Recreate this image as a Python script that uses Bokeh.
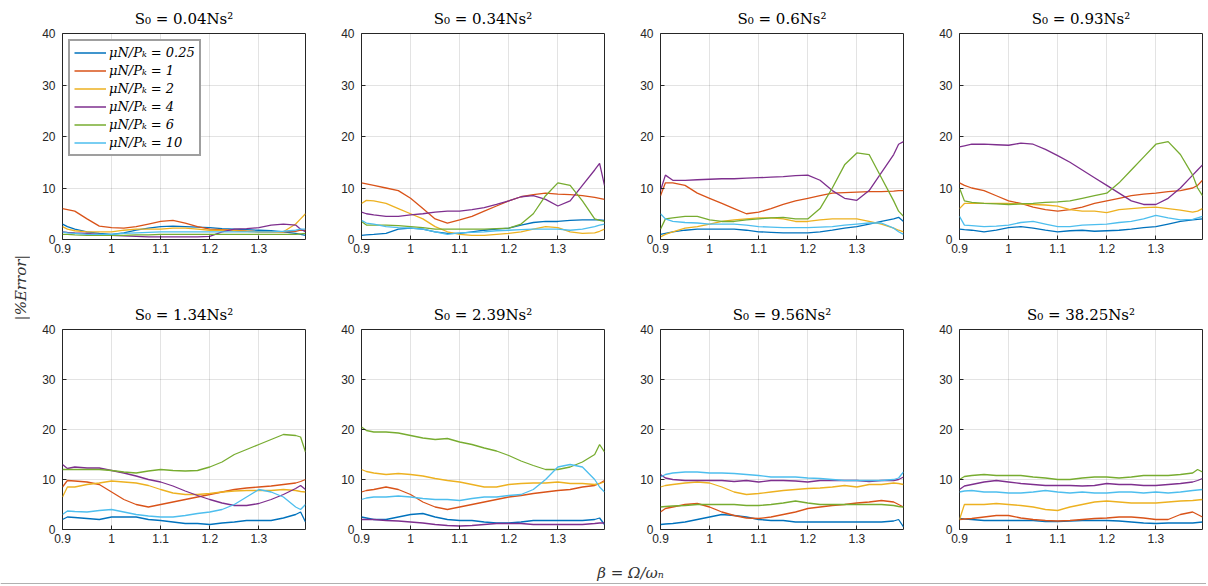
import math
from bokeh.plotting import figure
from bokeh.models import (FixedTicker, NumeralTickFormatter, Legend, LegendItem,
                          Label, Range1d, Span)
from bokeh.layouts import row, column
from bokeh.embed import file_html
from bokeh.resources import INLINE

# ---------------- data ----------------
BETA = [0.9, 0.91, 0.925, 0.95, 0.975, 1.0, 1.025, 1.05, 1.075, 1.1, 1.125, 1.15,
        1.175, 1.2, 1.225, 1.25, 1.275, 1.3, 1.325, 1.35, 1.375, 1.385, 1.395]

TITLES = ["S₀ = 0.04Ns²", "S₀ = 0.34Ns²", "S₀ = 0.6Ns²", "S₀ = 0.93Ns²",
          "S₀ = 1.34Ns²", "S₀ = 2.39Ns²", "S₀ = 9.56Ns²", "S₀ = 38.25Ns²"]

RATIO_LABELS = ["μN/Pₖ = 0.25", "μN/Pₖ = 1", "μN/Pₖ = 2",
                "μN/Pₖ = 4", "μN/Pₖ = 6", "μN/Pₖ = 10"]

COLORS = ["#0072BD", "#D95319", "#EDB120", "#7E2F8E", "#77AC30", "#4DBEEE"]

X_TICKS = [0.9, 1.0, 1.1, 1.2, 1.3]
Y_TICKS = [0, 10, 20, 30, 40]

# order in each panel: 0.25, 1, 2, 4, 6, 10
S0_004 = [
    [3.0, 2.5, 2.0, 1.5, 1.2, 1.0, 1.3, 1.8, 2.2, 2.5, 2.6, 2.5, 2.4, 2.3, 2.1, 2.0, 1.9, 1.8, 1.7, 1.5, 1.2, 1.0, 0.8],
    [6.0, 5.8, 5.5, 4.0, 2.6, 2.3, 2.2, 2.5, 3.0, 3.5, 3.7, 3.2, 2.5, 2.0, 1.9, 1.8, 1.6, 1.5, 1.5, 1.5, 1.6, 1.8, 1.8],
    [2.5, 2.0, 1.7, 1.5, 1.5, 1.5, 1.8, 2.0, 2.0, 2.0, 2.2, 2.2, 2.0, 1.8, 1.8, 1.7, 1.6, 1.5, 1.5, 1.5, 3.0, 4.0, 5.0],
    [1.5, 1.4, 1.3, 1.2, 1.0, 0.8, 0.7, 0.6, 0.5, 0.5, 0.5, 0.5, 0.5, 0.6, 1.5, 2.0, 2.1, 2.3, 2.8, 3.0, 2.8, 2.0, 1.5],
    [1.0, 1.0, 0.9, 0.8, 0.8, 0.8, 0.8, 0.9, 0.9, 1.0, 1.0, 1.0, 1.0, 1.0, 1.0, 1.0, 1.0, 1.0, 1.0, 1.0, 1.0, 1.1, 1.2],
    [1.5, 1.3, 1.2, 1.0, 1.0, 1.0, 1.2, 1.3, 1.4, 1.5, 1.5, 1.5, 1.5, 1.5, 1.5, 1.5, 1.5, 1.5, 1.5, 1.6, 1.8, 2.0, 2.0],
]
S0_034 = [
    [0.8, 0.9, 1.0, 1.2, 2.0, 2.2, 2.0, 1.5, 1.2, 1.2, 1.5, 1.8, 2.0, 2.2, 2.8, 3.3, 3.5, 3.5, 3.7, 3.8, 3.8, 3.8, 3.7],
    [11.0, 10.8, 10.5, 10.0, 9.5, 8.0, 6.0, 4.0, 3.2, 3.8, 4.5, 5.5, 6.5, 7.5, 8.3, 8.7, 9.0, 8.8, 8.7, 8.5, 8.2, 8.0, 7.8],
    [7.0, 7.6, 7.5, 7.0, 6.0, 5.0, 4.0, 2.5, 1.5, 1.0, 0.8, 0.8, 1.0, 1.2, 1.5, 2.0, 2.5, 2.3, 1.5, 1.2, 1.3, 1.6, 2.0],
    [5.3, 5.0, 4.8, 4.5, 4.5, 4.8, 5.0, 5.3, 5.5, 5.5, 5.8, 6.2, 6.8, 7.5, 8.3, 8.5, 7.8, 6.5, 7.5, 10.5, 13.5, 14.8, 10.5],
    [3.5, 2.8, 2.8, 2.8, 2.7, 2.5, 2.3, 2.0, 2.0, 2.0, 2.0, 2.0, 2.1, 2.2, 3.0, 5.0, 8.5, 11.0, 10.5, 7.5, 4.0, 3.7, 3.5],
    [3.7, 3.2, 3.0, 2.5, 2.3, 2.2, 2.0, 1.5, 1.0, 1.3, 1.4, 1.5, 1.7, 1.8, 1.9, 2.0, 2.0, 2.0, 1.8, 2.0, 2.5, 2.8, 3.0],
]
S0_06 = [
    [1.0, 1.2, 1.5, 1.8, 2.0, 2.0, 2.0, 2.0, 1.8, 1.5, 1.4, 1.3, 1.3, 1.3, 1.5, 1.8, 2.2, 2.5, 3.0, 3.5, 4.0, 4.3, 3.5],
    [8.5, 11.0, 11.0, 10.5, 9.0, 8.0, 7.0, 6.0, 5.0, 5.3, 6.0, 6.8, 7.5, 8.0, 8.5, 9.0, 9.1, 9.2, 9.3, 9.3, 9.4, 9.5, 9.5],
    [0.5, 1.0, 1.5, 2.2, 2.5, 3.0, 3.5, 3.8, 4.0, 4.2, 4.2, 4.0, 3.5, 3.5, 3.8, 4.0, 4.0, 4.0, 3.5, 3.0, 2.2, 1.8, 1.5],
    [9.5, 12.5, 11.5, 11.5, 11.6, 11.7, 11.8, 11.8, 11.9, 12.0, 12.1, 12.2, 12.4, 12.5, 11.5, 9.5, 8.0, 7.6, 9.5, 13.0, 16.5, 18.5, 19.0],
    [2.0, 4.0, 4.2, 4.5, 4.5, 3.8, 3.5, 3.5, 3.8, 4.0, 4.2, 4.3, 4.0, 4.0, 6.0, 10.0, 14.5, 16.8, 16.5, 12.0, 7.5, 5.5, 4.5],
    [5.0, 4.0, 3.5, 3.3, 3.2, 3.0, 3.0, 3.0, 2.8, 2.5, 2.4, 2.3, 2.3, 2.3, 2.4, 2.5, 2.8, 3.0, 3.2, 3.2, 2.2, 1.5, 1.0],
]
S0_093 = [
    [2.0, 1.9, 1.8, 1.5, 1.8, 2.3, 2.5, 2.2, 1.8, 1.5, 1.7, 1.8, 1.6, 1.7, 1.8, 2.0, 2.3, 2.5, 3.0, 3.5, 3.8, 3.9, 4.0],
    [11.0, 10.5, 10.0, 9.5, 8.5, 7.5, 7.0, 6.3, 5.8, 5.5, 5.8, 6.3, 7.0, 7.5, 8.0, 8.5, 8.8, 9.0, 9.3, 9.5, 10.0, 10.5, 11.5],
    [6.0, 7.0, 7.0, 7.0, 7.0, 7.0, 6.9, 6.8, 6.7, 6.5, 5.8, 5.5, 5.5, 5.2, 5.8, 6.0, 6.2, 6.3, 6.0, 5.7, 5.3, 5.5, 6.0],
    [18.0, 18.2, 18.5, 18.5, 18.4, 18.3, 18.7, 18.5, 17.5, 16.3, 15.0, 13.5, 12.0, 10.5, 9.0, 7.5, 6.8, 6.8, 8.0, 10.0, 12.5, 13.5, 14.5],
    [10.0, 7.5, 7.2, 7.0, 6.9, 6.8, 6.9, 7.0, 7.2, 7.3, 7.5, 8.0, 8.5, 9.0, 11.0, 13.5, 16.0, 18.5, 19.0, 16.5, 12.5, 10.0, 8.5],
    [4.5, 2.8, 2.7, 2.5, 2.6, 2.8, 3.3, 3.5, 3.0, 2.5, 2.5, 2.8, 2.9, 3.0, 3.3, 3.5, 4.0, 4.7, 4.2, 3.8, 3.9, 4.2, 4.5],
]
S0_134 = [
    [2.0, 2.5, 2.4, 2.2, 2.0, 2.5, 2.5, 2.5, 2.0, 1.8, 1.5, 1.2, 1.2, 1.0, 1.3, 1.5, 1.8, 1.8, 1.8, 2.3, 3.0, 3.5, 1.5],
    [8.5, 9.8, 9.7, 9.5, 9.0, 7.5, 6.0, 5.0, 4.5, 5.0, 5.5, 6.0, 6.5, 7.0, 7.5, 8.0, 8.3, 8.5, 8.7, 9.0, 9.3, 9.6, 10.0],
    [6.5, 8.5, 8.5, 9.0, 9.3, 9.7, 9.5, 9.3, 8.8, 8.0, 7.3, 7.0, 7.0, 7.2, 7.5, 7.7, 7.8, 7.8, 7.8, 8.0, 7.8, 7.6, 7.5],
    [13.0, 12.2, 12.5, 12.3, 12.3, 11.8, 11.3, 10.7, 10.0, 9.5, 8.7, 7.7, 6.8, 6.0, 5.3, 4.8, 4.8, 5.2, 6.0, 7.0, 8.2, 8.8, 8.0],
    [12.0, 12.0, 12.0, 12.0, 12.0, 11.8, 11.5, 11.3, 11.7, 12.0, 11.8, 11.7, 11.8, 12.5, 13.5, 15.0, 16.0, 17.0, 18.0, 19.0, 18.8, 18.5, 15.5],
    [3.0, 3.7, 3.6, 3.5, 3.8, 4.0, 3.5, 3.0, 2.7, 2.5, 2.5, 2.8, 3.2, 3.5, 4.0, 5.0, 6.5, 8.0, 7.5, 6.5, 4.5, 4.0, 5.0],
]
S0_239 = [
    [2.5, 2.3, 2.0, 2.0, 2.5, 3.0, 3.2, 2.5, 2.0, 1.8, 1.8, 1.5, 1.3, 1.3, 1.5, 1.8, 1.8, 1.8, 1.8, 1.8, 2.0, 2.3, 1.0],
    [7.5, 7.8, 8.0, 8.5, 8.0, 7.0, 5.5, 4.5, 4.0, 4.5, 5.0, 5.5, 6.0, 6.5, 6.8, 7.2, 7.5, 7.8, 8.0, 8.5, 8.8, 9.2, 9.8],
    [12.0, 11.6, 11.3, 11.0, 11.2, 11.0, 10.7, 10.2, 9.8, 9.5, 9.0, 8.5, 8.5, 9.0, 9.2, 9.3, 9.3, 9.5, 9.2, 9.2, 9.0, 9.2, 9.5],
    [2.0, 2.0, 2.0, 1.8, 1.7, 1.5, 1.3, 1.0, 0.8, 0.7, 0.8, 1.0, 1.2, 1.2, 1.2, 1.0, 1.0, 1.0, 1.0, 1.0, 1.2, 1.3, 1.3],
    [20.5, 19.8, 19.5, 19.5, 19.3, 18.8, 18.3, 18.0, 18.2, 17.5, 17.0, 16.3, 15.7, 14.8, 13.7, 12.8, 12.0, 12.0, 12.5, 13.5, 15.0, 17.0, 15.5],
    [6.0, 6.3, 6.5, 6.5, 6.7, 6.5, 6.2, 6.0, 6.0, 5.8, 6.2, 6.5, 6.5, 6.8, 7.0, 8.0, 10.0, 12.5, 13.0, 12.5, 10.0, 8.5, 7.5],
]
S0_956 = [
    [1.0, 1.1, 1.2, 1.5, 2.0, 2.5, 3.0, 2.8, 2.5, 2.0, 1.8, 1.8, 1.5, 1.5, 1.5, 1.5, 1.5, 1.5, 1.5, 1.5, 1.7, 2.0, 0.5],
    [3.5, 4.2, 4.5, 5.0, 5.2, 4.5, 3.5, 2.8, 2.3, 2.2, 2.5, 3.0, 3.5, 4.2, 4.5, 4.8, 5.0, 5.3, 5.5, 5.8, 5.5, 5.0, 4.5],
    [8.5, 8.8, 9.0, 9.3, 9.5, 9.3, 8.5, 7.5, 7.0, 7.2, 7.5, 7.8, 8.0, 8.2, 8.3, 8.5, 8.8, 8.5, 9.0, 9.0, 9.3, 9.2, 9.0],
    [11.0, 10.3, 10.0, 9.8, 9.8, 9.8, 9.8, 9.6, 9.8, 9.5, 9.8, 9.8, 9.7, 9.5, 9.8, 9.8, 9.8, 9.8, 9.6, 9.8, 9.8, 10.0, 10.5],
    [4.5, 4.6, 4.7, 4.8, 5.0, 5.0, 5.0, 5.0, 4.8, 4.8, 5.0, 5.3, 5.7, 5.3, 5.0, 5.0, 5.0, 5.0, 5.0, 5.0, 4.8, 4.6, 4.5],
    [10.5, 11.0, 11.3, 11.5, 11.5, 11.3, 11.3, 11.2, 11.0, 10.8, 10.5, 10.5, 10.5, 10.3, 10.2, 10.0, 9.8, 9.8, 9.8, 9.8, 10.0, 10.3, 11.5],
]
S0_3825 = [
    [2.2, 2.1, 2.0, 1.8, 1.8, 1.8, 1.8, 1.8, 1.6, 1.6, 1.7, 1.8, 1.8, 1.8, 1.7, 1.5, 1.3, 1.2, 1.3, 1.3, 1.3, 1.4, 1.5],
    [2.0, 2.1, 2.2, 2.5, 2.8, 2.8, 2.3, 2.0, 1.8, 1.7, 1.8, 2.0, 2.2, 2.3, 2.5, 2.5, 2.3, 2.0, 2.0, 3.0, 3.5, 3.0, 2.5],
    [2.0, 5.0, 5.0, 5.0, 5.2, 5.0, 4.8, 4.5, 4.0, 3.8, 4.5, 5.0, 5.5, 5.7, 5.5, 5.3, 5.3, 5.3, 5.5, 5.7, 5.8, 5.9, 6.0],
    [8.0, 8.7, 9.0, 9.5, 9.8, 9.5, 9.2, 9.0, 8.8, 8.8, 8.8, 8.7, 8.8, 9.2, 9.0, 9.0, 8.8, 8.8, 9.0, 9.2, 9.5, 9.8, 10.2],
    [10.0, 10.6, 10.8, 11.0, 10.8, 10.8, 10.8, 10.5, 10.3, 10.0, 10.0, 10.3, 10.5, 10.5, 10.3, 10.5, 10.8, 10.8, 10.8, 11.0, 11.3, 12.0, 11.5],
    [7.5, 7.7, 7.8, 7.5, 7.5, 7.3, 7.3, 7.5, 7.8, 7.5, 7.3, 7.5, 7.3, 7.3, 7.5, 7.5, 7.3, 7.5, 7.3, 7.5, 7.8, 7.9, 8.0],
]

PANELS = [S0_004, S0_034, S0_06, S0_093, S0_134, S0_239, S0_956, S0_3825]

AX_COLOR = "#262626"
SERIF = "DejaVu Serif"
SANS = "Liberation Sans"


def make_panel(i, width, height, left, right, top, bottom):
    p = figure(width=width, height=height,
               x_range=Range1d(0.9, 1.395), y_range=Range1d(0, 40),
               output_backend="svg", toolbar_location=None,
               min_border_left=left, min_border_right=right,
               min_border_top=top, min_border_bottom=bottom,
               title=TITLES[i])
    p.title.align = "center"
    p.title.text_font = SERIF
    p.title.text_font_size = "15px"
    p.title.text_font_style = "normal"
    p.title.text_color = "#000000"
    p.title.standoff = 11

    p.xaxis.ticker = FixedTicker(ticks=X_TICKS)
    p.xaxis.formatter = NumeralTickFormatter(format="0.[0]")
    p.yaxis.ticker = FixedTicker(ticks=Y_TICKS)
    for ax in (p.xaxis[0], p.yaxis[0]):
        ax.axis_line_color = None
        ax.major_tick_in = 4
        ax.major_tick_out = 0
        ax.minor_tick_line_color = None
        ax.major_tick_line_color = AX_COLOR
        ax.major_label_text_font = SANS
        ax.major_label_text_font_size = "12px"
        ax.major_label_text_color = AX_COLOR
    p.xaxis.major_label_standoff = 4
    p.yaxis.major_label_standoff = 7

    p.outline_line_color = AX_COLOR
    p.outline_line_width = 1
    p.outline_line_alpha = 1
    for g in (p.xgrid[0], p.ygrid[0]):
        g.grid_line_color = AX_COLOR
        g.grid_line_alpha = 0.13
        g.grid_line_width = 1
    p.background_fill_color = "white"
    p.border_fill_color = "white"

    renderers = []
    for k, vals in enumerate(PANELS[i]):
        r = p.line(BETA, vals, line_color=COLORS[k], line_width=1.3)
        renderers.append(r)

    if i == 0:
        items = [LegendItem(label=RATIO_LABELS[k], renderers=[renderers[k]])
                 for k in range(6)]
        leg = Legend(items=items, location="top_left")
        leg.label_text_font = SERIF
        leg.label_text_font_style = "italic"
        leg.label_text_font_size = "13px"
        leg.label_text_color = "#000000"
        leg.border_line_color = "#404040"
        leg.border_line_width = 2
        leg.background_fill_alpha = 1
        leg.margin = 6
        leg.padding = 4
        leg.spacing = 3
        leg.glyph_height = 15
        leg.label_height = 15
        leg.glyph_width = 32
        leg.label_standoff = 3
        p.add_layout(leg)
    return p


FRAME_W, FRAME_H = 243, 206
TOP_T, TOP_B = 33, 59
BOT_T, BOT_B = 25, 22
TOP_H = TOP_T + FRAME_H + TOP_B
BOT_H = BOT_T + FRAME_H + BOT_B
panels = []
for i in range(8):
    last = (i % 4 == 3)
    r = 4 if last else 24
    w = 32 + FRAME_W + r
    if i < 4:
        panels.append(make_panel(i, w, TOP_H, 32, r, TOP_T, TOP_B))
    else:
        panels.append(make_panel(i, w, BOT_H, 32, r, BOT_T, BOT_B))

# overall y label
YL_W, YL_H = 30, TOP_H + BOT_H
ylab = figure(width=YL_W, height=YL_H, x_range=Range1d(0, YL_W), y_range=Range1d(0, YL_H),
              output_backend="svg", toolbar_location=None, min_border=0,
              x_axis_location=None, y_axis_location=None)
ylab.grid.visible = False
ylab.outline_line_color = None
ylab.add_layout(Label(x=20, y=YL_H - 287, text="|%Error|", angle=math.pi / 2,
                      text_align="center", text_baseline="middle",
                      text_font=SERIF, text_font_style="italic",
                      text_font_size="15px", text_color="#333333"))

# overall x label
XL_W, XL_H = 1206, 586 - YL_H
xlab = figure(width=XL_W, height=XL_H, x_range=Range1d(0, XL_W), y_range=Range1d(0, XL_H),
              output_backend="svg", toolbar_location=None, min_border=0,
              x_axis_location=None, y_axis_location=None)
xlab.grid.visible = False
xlab.outline_line_color = None
xlab.add_layout(Label(x=630, y=XL_H - 21, text="β = Ω/ωₙ", text_align="center",
                      text_baseline="middle", text_font=SERIF,
                      text_font_style="italic", text_font_size="15px",
                      text_color="#333333"))
xlab.add_layout(Span(location=3, dimension="width", line_color="#b0b0b0", line_width=1))

grid = column(row(*panels[:4]), row(*panels[4:]))
root = column(row(ylab, grid), xlab)

open("out.html", "w").write(file_html(root, INLINE))
